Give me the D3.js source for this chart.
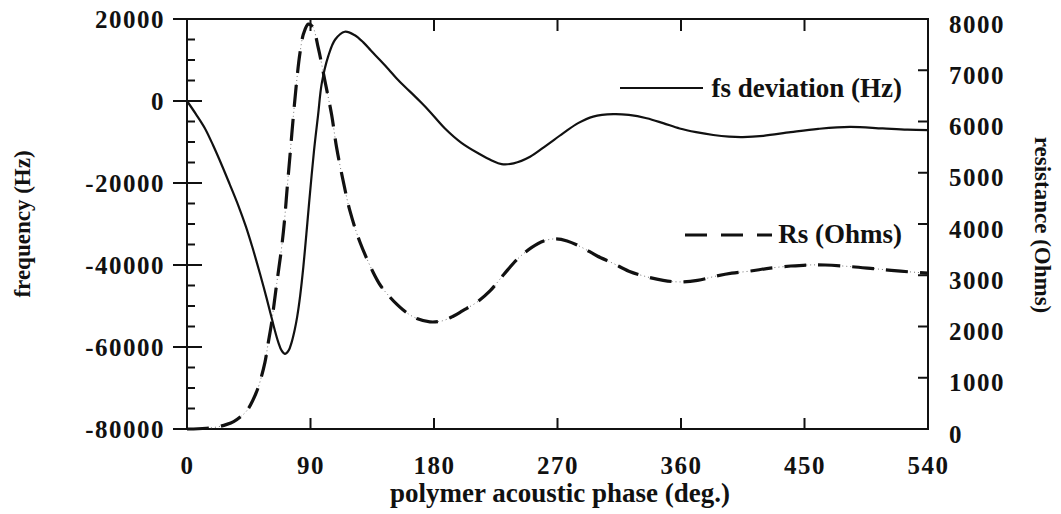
<!DOCTYPE html>
<html>
<head>
<meta charset="utf-8">
<script src="https://cdn.jsdelivr.net/npm/d3@7"></script>
<style>
  body { margin: 0; background: #fff; }
  svg { display: block; }
  text { font-family: "Liberation Serif", "Times New Roman", serif; fill: #111; }
  .tick text { font-size: 25px; font-weight: bold; letter-spacing: 1.5px; }
  .title { font-size: 23px; font-weight: bold; }
  .legend { font-size: 27px; font-weight: bold; }
</style>
</head>
<body>
<svg width="1061" height="514"></svg>
<script>
      // values
      const fsPhase = [0, 6.5, 13.1, 19, 25.3, 31, 37.4, 43, 47.5, 50.8, 54.5, 58.1, 61, 63.5, 66.5, 69, 71.4, 74,
        76.3, 78.5, 80.4, 82.5, 84.8, 87, 89, 92.6, 95.5, 98.2, 103, 108, 115, 122, 128.5, 134, 140.6, 147, 152.8,
        159, 165, 171, 177, 188, 200, 213.5, 222, 229.3, 238, 250, 262, 274, 285, 296, 310.7, 322, 335, 347, 359,
        371, 383.5, 395, 405, 420, 440, 460, 483, 507, 525, 540];
      const fsDeviation = [0, -3200, -6700, -10800, -15600, -20200, -25500, -30700, -35500, -39300, -43700,
        -48200, -52000, -55300, -58800, -60900, -61700, -60900, -58800, -55800, -52400, -47400, -40400, -32400,
        -24800, -12000, -3500, 4300, 11000, 15000, 16900, 16100, 14300, 12300, 10000, 7700, 5500, 3400, 1500,
        -500, -2600, -6700, -10200, -13000, -14500, -15400, -15200, -13600, -10800, -7900, -5400, -3800, -3200,
        -3400, -4200, -5400, -6700, -7600, -8300, -8700, -8800, -8500, -7600, -6800, -6300, -6700, -7000, -7100];

      const rsPhase = [0, 8, 14, 22, 29, 34, 40, 44, 48, 52, 56.8, 59, 61.7, 63.5, 65.4, 67, 69, 71, 73, 75.1,
        77.5, 79.9, 82.3, 85, 88.4, 91.5, 95.7, 100.6, 105.4, 109.1, 113.9, 118.8, 126, 135.8, 141, 147, 153,
        160, 168, 177, 186, 194, 201, 211, 221, 231, 241, 251, 260, 269, 277, 288, 298.6, 310.7, 322, 335, 347,
        359, 372, 385, 397, 410, 425, 440, 452, 465, 483, 500, 520, 540];
      const rsOhms = [0, 5, 15, 40, 90, 145, 260, 370, 560, 820, 1300, 1650, 2080, 2450, 2840, 3150, 3550, 4050,
        4700, 5350, 6100, 6780, 7330, 7720, 7900, 7850, 7430, 6780, 6130, 5480, 4830, 4250, 3650, 3050, 2800,
        2600, 2430, 2270, 2150, 2090, 2110, 2200, 2310, 2470, 2700, 3020, 3320, 3540, 3670, 3710, 3670, 3540,
        3380, 3230, 3080, 2970, 2900, 2870, 2900, 2980, 3040, 3080, 3140, 3180, 3200, 3200, 3170, 3130, 3080, 3040];

      // tick labels
      const phaseTicks = [0, 90, 180, 270, 360, 450, 540];
      const freqTicks = [-80000, -60000, -40000, -20000, 0, 20000];
      const resTicks = [0, 1000, 2000, 3000, 4000, 5000, 6000, 7000, 8000];
      const freqMinor = d3.range(-75000, 20000, 5000).filter(v => v % 20000 !== 0);

      const seriesNames = ["fs deviation (Hz)", "Rs (Ohms)"];

      // define svg and dimensions of chart
      const svg = d3.select("svg"),
          margin = {top: 19, right: 133, bottom: 85, left: 187},
          width = +svg.attr("width") - margin.left - margin.right,
          height = +svg.attr("height") - margin.top - margin.bottom;

      const g = svg.append("g")
          .attr("transform", "translate(" + margin.left + "," + margin.top + ")");

      // scales
      let x = d3.scaleLinear().domain([0, 540]).range([0, width]);
      let yFreq = d3.scaleLinear().domain([-80000, 20000]).range([height, 0]);
      let yRes = d3.scaleLinear().domain([0, 8000]).range([height, 0]);

      // plain hyphen for negatives, like the original
      const plain = d => String(d);

      // axes, labels only - tick marks are drawn by hand below
      g.append("g")
          .attr("transform", "translate(0," + height + ")")
          .call(d3.axisBottom(x).tickValues(phaseTicks).tickSize(0).tickPadding(27).tickFormat(plain))
          .call(a => a.select(".domain").remove());

      g.append("g")
          .call(d3.axisLeft(yFreq).tickValues(freqTicks).tickSize(0).tickPadding(22).tickFormat(plain))
          .call(a => a.select(".domain").remove());

      g.append("g")
          .attr("transform", "translate(" + width + ",0)")
          .call(d3.axisRight(yRes).tickValues(resTicks).tickSize(0).tickPadding(21).tickFormat(plain))
          .call(a => a.select(".domain").remove())
          .selectAll("text").attr("dy", "0.52em");

      g.selectAll(".tick text").attr("fill", "#111");

      // tick marks
      const ticks = g.append("g").attr("stroke", "#111").attr("stroke-width", 2);

      ticks.selectAll(".major")
          .data(freqTicks)
          .enter().append("line")
          .attr("x1", -14).attr("x2", d => (d === 20000 || d === -80000) ? 0 : 15)
          .attr("y1", d => yFreq(d)).attr("y2", d => yFreq(d));

      ticks.selectAll(".minor")
          .data(freqMinor)
          .enter().append("line")
          .attr("x1", 0).attr("x2", 8)
          .attr("y1", d => yFreq(d)).attr("y2", d => yFreq(d));

      ticks.selectAll(".res")
          .data(resTicks.slice(1, -1))
          .enter().append("line")
          .attr("x1", width - 10).attr("x2", width)
          .attr("y1", d => yRes(d)).attr("y2", d => yRes(d));

      ticks.selectAll(".bottom")
          .data(phaseTicks.slice(1, -1))
          .enter().append("line")
          .attr("x1", d => x(d)).attr("x2", d => x(d))
          .attr("y1", height - 11).attr("y2", height);

      ticks.selectAll(".top")
          .data(phaseTicks.slice(1, -1))
          .enter().append("line")
          .attr("x1", d => x(d)).attr("x2", d => x(d))
          .attr("y1", 0).attr("y2", 12);

      // frame
      g.append("rect")
          .attr("width", width).attr("height", height)
          .attr("fill", "none").attr("stroke", "#111").attr("stroke-width", 2);

      // curves
      const fsData = fsPhase.map((p, i) => [p, fsDeviation[i]]);
      const rsData = rsPhase.map((p, i) => [p, rsOhms[i]]);

      const fsLine = d3.line().x(d => x(d[0])).y(d => yFreq(d[1])).curve(d3.curveCatmullRom);
      const rsLine = d3.line().x(d => x(d[0])).y(d => yRes(d[1])).curve(d3.curveCatmullRom);

      // faint dotted trace that shows between the dashes in the scan
      g.append("path")
          .attr("d", rsLine(rsData))
          .attr("fill", "none")
          .attr("stroke", "#777")
          .attr("stroke-width", 1)
          .attr("stroke-dasharray", "1,3");

      g.append("path")
          .attr("d", rsLine(rsData))
          .attr("fill", "none")
          .attr("stroke", "#111")
          .attr("stroke-width", 3.2)
          .attr("stroke-dasharray", "22,12");

      g.append("path")
          .attr("d", fsLine(fsData))
          .attr("fill", "none")
          .attr("stroke", "#111")
          .attr("stroke-width", 2.2);

      // legend
      const legend = svg.append("g");
      legend.append("line")
          .attr("x1", 620).attr("x2", 703).attr("y1", 88).attr("y2", 88)
          .attr("stroke", "#111").attr("stroke-width", 2.2);
      legend.append("line")
          .attr("x1", 685).attr("x2", 772).attr("y1", 235).attr("y2", 235)
          .attr("stroke", "#111").attr("stroke-width", 3.2).attr("stroke-dasharray", "22,14");
      legend.selectAll("text")
          .data(seriesNames)
          .enter().append("text")
          .attr("class", "legend")
          .attr("x", 902)
          .attr("y", (d, i) => i === 0 ? 97 : 243)
          .style("text-anchor", "end")
          .text(d => d);

      // axis titles
      svg.append("text")
          .attr("class", "title")
          .attr("x", 560).attr("y", 502)
          .style("text-anchor", "middle").style("font-size", "27px")
          .text("polymer acoustic phase (deg.)");

      svg.append("text")
          .attr("class", "title")
          .attr("transform", "translate(30,224) rotate(-90)")
          .style("text-anchor", "middle")
          .text("frequency (Hz)");

      svg.append("text")
          .attr("class", "title")
          .attr("transform", "translate(1035,225) rotate(90)")
          .style("text-anchor", "middle")
          .text("resistance (Ohms)");
</script>
</body>
</html>
